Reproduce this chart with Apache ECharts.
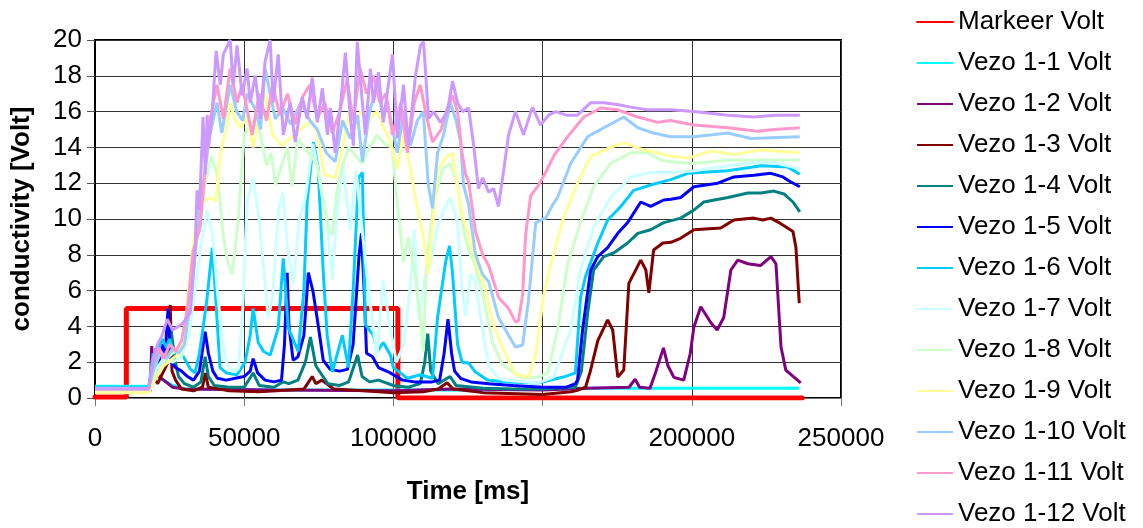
<!DOCTYPE html>
<html>
<head>
<meta charset="utf-8">
<title>conductivity</title>
<script src="https://cdn.jsdelivr.net/npm/echarts@6/dist/echarts.min.js"></script>
<style>
  html, body { margin: 0; padding: 0; background: #fff; }
  #chart { width: 1143px; height: 528px; }
</style>
</head>
<body>
<div id="chart"></div>
<script>
// time [ms], value [Volt] pairs
const markeer = [[0, 0.05], [10500, 0.05], [10500, 5], [101500, 5], [101500, 0], [237000, 0]]

const vezo1 = [[0, 0.65], [18000, 0.65], [19500, 0.9], [21000, 1.2], [23000, 1.0], [26000, 0.7], [30000, 0.5],
  [60000, 0.45], [100000, 0.45], [125000, 0.45], [150000, 0.5], [165000, 0.55], [236000, 0.55]]

const vezo2 = [[0, 0.4], [18500, 0.4], [19000, 2.9], [19500, 1.5], [20500, 2.5], [21500, 1.2], [23000, 1.0],
  [26000, 0.6], [30000, 0.5], [60000, 0.45], [100000, 0.4], [120000, 0.5], [150000, 0.45], [165000, 0.55],
  [179000, 0.6], [181000, 1.05], [182500, 0.6], [186000, 0.55], [188000, 1.5], [190500, 2.8], [192000, 1.8],
  [194000, 1.15], [197300, 1.0], [199500, 2.5], [200700, 3.97], [203000, 5.1], [206400, 4.2], [208500, 3.8],
  [210700, 4.5], [213100, 7.15], [215400, 7.7], [218800, 7.5], [223000, 7.4], [226500, 7.9], [228200, 7.5],
  [229900, 2.85], [231500, 1.56], [236500, 0.84]]

const vezo3 = [[0, 0.35], [18000, 0.35], [19500, 1.2], [21000, 0.8], [23000, 1.5], [24500, 2.0], [25200, 5.2],
  [25800, 1.5], [27000, 1.0], [29000, 0.5], [33000, 0.4], [36000, 0.6], [37000, 1.4], [38000, 0.6], [45000, 0.4],
  [55000, 0.35], [65000, 0.45], [70000, 0.5], [72800, 1.2], [74000, 0.8], [76000, 1.0], [80000, 0.5], [90000, 0.4],
  [100000, 0.3], [110000, 0.35], [115000, 0.5], [118000, 0.85], [120000, 0.5], [130000, 0.3], [150000, 0.2],
  [159500, 0.35], [162000, 0.45], [164400, 0.6], [166000, 1.5], [168500, 3.2], [171800, 4.36], [173500, 3.8],
  [175200, 1.17], [177200, 1.56], [178900, 6.4], [182900, 7.7], [184600, 7.15], [185600, 5.87], [187200, 8.27],
  [190300, 8.66], [193000, 8.7], [196000, 8.9], [200700, 9.4], [209700, 9.5], [214100, 9.94], [220800, 10.05],
  [223800, 9.94], [226500, 10.05], [229200, 9.8], [233900, 9.3], [234900, 8.4], [236000, 5.3]]

const vezo4 = [[0, 0.45], [18000, 0.45], [20000, 1.0], [22000, 1.8], [24000, 2.5], [25500, 3.8], [26800, 2.1],
  [28000, 1.2], [30000, 0.8], [33000, 0.6], [35500, 0.9], [36900, 2.3], [38000, 1.2], [40000, 0.7], [45000, 0.6],
  [50000, 0.6], [53000, 1.4], [55000, 0.7], [60000, 0.6], [63000, 0.9], [65000, 0.8], [68000, 1.0], [70500, 2.0],
  [72200, 3.4], [74000, 1.8], [76000, 1.3], [78000, 0.8], [82000, 0.7], [85000, 0.9], [88000, 2.4], [89500, 1.2],
  [92000, 0.9], [95000, 1.0], [100000, 0.7], [105000, 0.6], [109000, 0.8], [110500, 2.0], [111500, 3.6],
  [112500, 1.5], [115000, 0.8], [118000, 1.1], [119000, 1.2], [121000, 0.7], [130000, 0.55], [140000, 0.5],
  [150000, 0.5], [161000, 0.6], [163000, 1.5], [165100, 4.75], [167100, 7.15], [170500, 7.9], [173800, 8.1],
  [178500, 8.66], [181900, 9.2], [186200, 9.4], [190600, 9.8], [196300, 10.05], [200700, 10.5], [204000, 10.95],
  [212100, 11.2], [218800, 11.45], [223200, 11.45], [227500, 11.56], [230900, 11.4], [233900, 10.95], [236200, 10.4]]

const vezo5 = [[0, 0.5], [18000, 0.5], [19500, 1.5], [20500, 2.8], [21500, 2.0], [22500, 3.0], [23500, 2.5],
  [24500, 5.0], [25500, 2.0], [27000, 1.7], [29000, 1.5], [31000, 1.2], [33000, 1.0], [35000, 1.5], [36900, 3.7],
  [38000, 2.5], [39500, 1.5], [41000, 1.1], [44000, 1.0], [47000, 1.1], [50000, 1.2], [52000, 1.5], [53000, 2.2],
  [54500, 1.4], [57000, 1.0], [60000, 0.9], [62500, 1.0], [63500, 3.0], [64400, 7.0], [65000, 4.0], [66400, 2.1],
  [68000, 2.3], [70000, 3.5], [71500, 7.0], [73000, 6.0], [74500, 4.4], [76500, 2.1], [78800, 1.6], [82000, 1.5],
  [84600, 1.6], [86500, 3.0], [88500, 8.0], [89300, 9.2], [90200, 6.0], [91000, 2.5], [93000, 2.3], [95000, 1.7],
  [99000, 1.4], [103000, 1.0], [107000, 0.9], [113000, 0.9], [115500, 1.0], [117000, 2.5], [118300, 4.4],
  [119500, 2.5], [120500, 1.5], [122500, 1.1], [126000, 0.9], [132000, 0.8], [140000, 0.7], [150000, 0.6],
  [158000, 0.6], [161000, 0.8], [161700, 1.0], [163400, 3.8], [166100, 7.15], [168500, 7.9], [171800, 8.4],
  [175200, 9.2], [178500, 9.8], [182900, 10.95], [186200, 10.7], [190600, 11.06], [193000, 11.1], [196300, 11.2],
  [200700, 11.8], [208700, 12.0], [214100, 12.35], [220800, 12.45], [226500, 12.55], [230500, 12.35],
  [233200, 12.07], [236200, 11.8]]

const vezo6 = [[0, 0.6], [18000, 0.6], [19500, 2.5], [20500, 1.8], [21500, 2.8], [22500, 3.3], [24000, 2.8],
  [25000, 3.3], [26500, 2.5], [28000, 2.8], [30000, 2.2], [32000, 1.6], [33500, 1.4], [35000, 2.5], [36200, 3.9],
  [37500, 5.5], [39300, 8.4], [40300, 6.0], [41900, 1.7], [44000, 1.4], [47600, 1.3], [50300, 2.0], [52000, 3.5],
  [53000, 5.0], [54700, 3.1], [56500, 2.6], [58700, 2.4], [61400, 3.9], [63100, 7.8], [64800, 3.9], [68100, 2.6],
  [70000, 6.0], [71100, 11.0], [73200, 14.3], [74800, 12.8], [76500, 7.0], [77800, 3.5], [79500, 1.45],
  [82900, 3.5], [84900, 1.7], [86500, 6.0], [88300, 12.3], [89600, 12.6], [90600, 4.1], [93300, 3.5],
  [94600, 2.6], [96600, 3.1], [99000, 2.4], [100000, 1.7], [104700, 1.1], [109000, 1.3], [113100, 1.1],
  [114800, 4.5], [117500, 7.6], [118800, 8.5], [119800, 7.0], [121500, 3.0], [123000, 2.0], [125200, 1.95],
  [127500, 1.45], [131500, 1.0], [137600, 0.9], [148300, 0.84], [157000, 1.17], [161000, 1.4], [162700, 5.6],
  [164400, 6.8], [168500, 8.66], [171800, 9.94], [176200, 10.7], [180500, 11.6], [186200, 11.9], [192900, 12.2],
  [198700, 12.55], [212100, 12.7], [223200, 12.98], [232200, 12.9], [236200, 12.5]]

const vezo7 = [[0, 0.4], [18000, 0.4], [20000, 1.5], [23000, 2.2], [26000, 2.0], [29000, 2.3], [31500, 3.5],
  [33500, 6.0], [35500, 8.5], [37500, 10.5], [39500, 9.0], [41000, 6.0], [42500, 3.5], [44000, 2.0], [46000, 1.5],
  [48000, 1.6], [49500, 5.0], [51000, 11.0], [53000, 12.3], [55000, 10.0], [56500, 7.3], [58000, 4.5],
  [59500, 5.6], [61500, 10.5], [63000, 11.5], [64500, 8.4], [66500, 6.4], [68500, 10.0], [70500, 11.2],
  [73000, 14.2], [75000, 12.5], [77500, 10.1], [79500, 6.6], [81000, 10.0], [83000, 13.1], [85500, 9.4],
  [87500, 12.7], [89500, 9.4], [92000, 5.6], [94500, 2.3], [96500, 6.6], [99000, 3.8], [101000, 2.0],
  [103500, 3.0], [105500, 6.0], [107000, 9.4], [108500, 4.4], [110500, 6.6], [112500, 7.5], [114500, 9.4],
  [117000, 10.5], [119000, 11.2], [121500, 9.8], [123000, 6.1], [124200, 4.6], [125800, 6.9], [127500, 6.5],
  [129200, 4.5], [131900, 1.84], [135200, 1.1], [137000, 1.0], [148300, 0.84], [153700, 1.17], [159400, 3.8],
  [162700, 7.15], [167100, 9.55], [172800, 11.2], [179500, 12.35], [186200, 12.6], [192900, 12.6],
  [200700, 12.7], [217400, 13.1], [226500, 13.2], [236200, 12.8]]

const vezo8 = [[0, 0.35], [18000, 0.35], [20000, 1.2], [23000, 2.0], [26000, 2.5], [29000, 2.8], [31000, 4.0],
  [33000, 7.5], [35000, 10.0], [37000, 12.0], [39000, 13.5], [41000, 12.5], [43000, 9.0], [44500, 7.6],
  [46000, 6.9], [48000, 10.0], [50000, 14.7], [53000, 15.5], [55500, 14.7], [57500, 13.0], [59000, 13.7],
  [60500, 11.9], [62500, 13.0], [64500, 14.0], [66000, 11.8], [68000, 14.5], [70000, 14.0], [72500, 13.5],
  [74500, 13.0], [76500, 10.9], [78500, 9.4], [79500, 9.1], [81000, 11.5], [83000, 13.0], [85000, 14.0],
  [87500, 13.5], [89500, 13.1], [92000, 14.0], [94500, 14.7], [97000, 14.2], [99500, 14.0], [101300, 10.95],
  [103400, 7.6], [105000, 9.0], [107400, 6.7], [109000, 4.5], [110000, 2.6], [111000, 7.3], [113500, 10.95],
  [116500, 12.8], [119000, 13.1], [121500, 11.9], [123800, 9.1], [125800, 8.0], [127000, 7.6], [130000, 5.75],
  [133200, 3.1], [136600, 1.84], [143300, 1.1], [148700, 1.17], [151700, 1.4], [155000, 3.8], [158400, 7.5],
  [162700, 9.8], [167100, 11.8], [172800, 13.1], [179500, 13.7], [185200, 13.7], [189600, 13.3],
  [192900, 13.2], [200700, 13.1], [212100, 13.3], [223200, 13.3], [236200, 13.3]]

const vezo9 = [[0, 0.3], [18000, 0.3], [20000, 1.0], [23000, 1.8], [26000, 2.2], [28500, 2.5], [30500, 4.5],
  [32500, 8.0], [34500, 10.5], [36500, 11.0], [38500, 11.2], [40500, 11.0], [42000, 13.7], [44000, 15.0],
  [45300, 16.5], [47000, 15.5], [49000, 15.1], [51000, 15.8], [53000, 14.0], [55000, 15.5], [57000, 17.0],
  [59500, 14.7], [62500, 14.1], [65500, 14.5], [69500, 15.1], [72500, 15.5], [74500, 14.8], [76800, 12.5],
  [80500, 12.3], [83000, 14.0], [85200, 16.0], [87500, 15.0], [89000, 16.0], [92000, 15.6], [94600, 16.0],
  [97000, 15.0], [99000, 14.3], [101300, 12.8], [103400, 14.7], [105700, 12.8], [108000, 10.6], [110000, 9.1],
  [111700, 6.9], [113000, 9.5], [115000, 12.8], [117500, 13.4], [119800, 13.7], [120800, 12.5], [123150, 10.2],
  [125170, 9.1], [127500, 7.6], [130870, 6.1], [133220, 4.25], [136570, 2.8], [140940, 1.3], [145300, 1.17],
  [147650, 2.4], [150340, 5.75], [153350, 7.8], [157050, 10.1], [161700, 12.0], [166100, 13.5], [172800, 14.0],
  [177200, 14.25], [183900, 13.85], [188600, 13.7], [193000, 13.5], [198700, 13.4], [206400, 13.8],
  [214100, 13.6], [223200, 13.85], [236200, 13.7]]

const vezo10 = [[0, 0.55], [18000, 0.55], [20000, 1.8], [22000, 2.5], [24000, 2.2], [26000, 2.8], [28000, 2.5],
  [30000, 3.0], [32000, 5.5], [34200, 9.1], [36200, 11.9], [38500, 14.7], [40900, 16.5], [42500, 14.8],
  [45300, 17.5], [47500, 16.0], [49500, 15.5], [51000, 17.0], [53500, 16.2], [55500, 15.0], [57000, 18.4],
  [60400, 15.6], [63000, 16.2], [65500, 15.3], [69000, 16.5], [72000, 15.5], [74500, 15.0], [77500, 13.7],
  [80500, 13.2], [83000, 15.5], [85500, 14.5], [88000, 15.8], [89600, 13.2], [92000, 16.0], [94600, 17.5],
  [96600, 15.6], [98000, 16.5], [101300, 13.7], [103500, 16.0], [105700, 14.1], [108000, 15.5], [110000, 16.0],
  [111700, 11.9], [113100, 10.6], [114800, 13.7], [116800, 14.7], [119100, 16.5], [121000, 15.5],
  [122500, 14.3], [123500, 11.9], [125200, 10.8], [127500, 8.0], [129900, 6.9], [131900, 6.5], [135200, 4.5],
  [138600, 3.5], [140900, 2.85], [143300, 2.96], [145300, 5.5], [147700, 9.8], [151000, 10.05], [153400, 10.8],
  [155000, 11.2], [159400, 13.1], [165100, 14.6], [170500, 15.1], [177200, 15.7], [181900, 15.1],
  [187200, 14.8], [192900, 14.6], [200700, 14.6], [212100, 14.8], [219800, 14.5], [236200, 14.6]]

const vezo11 = [[0, 0.5], [18000, 0.5], [19500, 2.0], [21500, 2.8], [23000, 2.2], [25000, 3.0], [27000, 2.6],
  [29000, 3.2], [31000, 5.0], [32900, 8.2], [35200, 9.5], [36900, 12.8], [38600, 15.6], [40900, 17.5],
  [43000, 15.6], [45300, 18.4], [47600, 16.5], [49300, 17.5], [52700, 14.7], [55000, 17.0], [57500, 15.5],
  [59500, 17.5], [62000, 15.8], [64500, 17.0], [67000, 15.3], [69500, 16.8], [72000, 17.5], [74500, 15.6],
  [77000, 16.5], [79500, 14.8], [82000, 16.0], [84500, 17.8], [86500, 15.5], [88900, 18.4], [91000, 17.0],
  [93300, 18.0], [95500, 16.5], [97500, 17.0], [99700, 14.7], [102500, 16.5], [104700, 13.7], [107000, 16.5],
  [109000, 17.5], [111000, 15.8], [113100, 14.3], [116000, 15.0], [118100, 16.2], [119800, 16.9],
  [121500, 16.0], [123000, 13.7], [124200, 12.5], [125200, 12.1], [127500, 9.3], [129900, 8.0], [131900, 7.4],
  [135300, 5.6], [138600, 5.0], [140900, 4.25], [141900, 4.3], [143300, 5.75], [144300, 9.1], [146000, 11.3],
  [148300, 11.8], [150700, 12.5], [154000, 13.6], [158400, 14.6], [163800, 15.7], [169500, 16.2],
  [175200, 16.1], [181900, 15.7], [188600, 15.4], [192900, 15.5], [200700, 15.25], [212100, 15.1],
  [222100, 14.9], [227500, 15.0], [236200, 15.1]]

const vezo12 = [[0, 0.5], [18000, 0.5], [19500, 2.2], [21000, 3.0], [22500, 3.5], [24200, 4.4], [26000, 3.8],
  [28000, 4.0], [29500, 4.2], [31900, 4.75], [33500, 8.0], [34200, 11.6], [35000, 10.5], [36200, 15.7],
  [37000, 12.5], [37600, 15.8], [38000, 14.0], [39300, 16.0], [40600, 19.4], [42000, 17.5], [43000, 19.2],
  [45300, 20.0], [46300, 17.5], [47600, 19.7], [49300, 16.9], [51000, 18.4], [52000, 16.5], [53700, 18.0],
  [55400, 15.6], [57000, 18.8], [58700, 20.0], [59700, 16.5], [61400, 19.2], [63100, 14.7], [65400, 16.5],
  [67100, 14.3], [69500, 16.8], [71100, 15.6], [72800, 17.9], [74500, 15.4], [76200, 17.3], [77900, 14.7],
  [78900, 16.2], [80500, 13.7], [82200, 16.2], [83900, 19.3], [85600, 15.6], [86600, 14.1], [87900, 19.9],
  [89600, 16.5], [90600, 14.7], [92300, 18.4], [93300, 16.5], [95000, 18.2], [96600, 15.4], [99700, 19.2],
  [101300, 14.5], [103400, 17.5], [105000, 14.1], [107400, 18.0], [109100, 19.7], [110100, 19.9],
  [111800, 15.6], [113400, 16.0], [115800, 15.4], [118100, 16.0], [119800, 17.7], [121500, 16.5],
  [123200, 16.0], [125200, 16.2], [126900, 14.1], [128500, 11.7], [129900, 12.3], [131900, 11.5],
  [133600, 11.7], [135200, 10.7], [136600, 12.3], [138600, 14.7], [140900, 16.0], [143600, 14.7],
  [146600, 16.25], [149300, 15.25], [152000, 15.8], [154400, 16.0], [158000, 15.8], [161700, 15.8],
  [166100, 16.5], [170500, 16.5], [175000, 16.4], [179500, 16.25], [185000, 16.1], [192900, 16.1],
  [200700, 16.0], [212000, 15.8], [220800, 15.7], [228000, 15.8], [236200, 15.8]]

const seriesNames = ['Markeer Volt', 'Vezo 1-1 Volt', 'Vezo 1-2 Volt', 'Vezo 1-3 Volt', 'Vezo 1-4 Volt',
  'Vezo 1-5 Volt', 'Vezo 1-6 Volt', 'Vezo 1-7 Volt', 'Vezo 1-8 Volt', 'Vezo 1-9 Volt', 'Vezo 1-10 Volt',
  'Vezo 1-11 Volt', 'Vezo 1-12 Volt']
const seriesData = [markeer, vezo1, vezo2, vezo3, vezo4, vezo5, vezo6, vezo7, vezo8, vezo9, vezo10, vezo11, vezo12]
const colors = ['#FF0000', '#00FFFF', '#800080', '#800000', '#008080', '#0000FF', '#00CCFF', '#CCFFFF',
  '#CCFFCC', '#FFFF99', '#99CCFF', '#FF99CC', '#CC99FF']

const font = "'Liberation Sans', Arial, sans-serif"

const chart = echarts.init(document.getElementById('chart'), null, { renderer: 'canvas' })

const option = {
  animation: false,
  color: colors,
  textStyle: { fontFamily: font, color: '#000' },
  grid: {
    left: 95,
    right: 302,
    top: 40,
    bottom: 130,
    show: true,
    borderColor: '#000',
    borderWidth: 2
  },
  legend: {
    orient: 'vertical',
    left: 916,
    top: 9,
    padding: 0,
    height: 519,
    // tiny item height hides the legend marker dot, only the line is left
    itemWidth: 36,
    itemHeight: 2,
    itemGap: 15,
    selectedMode: false,
    textStyle: { fontFamily: font, fontSize: 26, lineHeight: 26, color: '#000' },
    data: seriesNames
  },
  xAxis: {
    type: 'value',
    min: 0,
    max: 250000,
    interval: 50000,
    name: 'Time [ms]',
    nameLocation: 'middle',
    nameGap: 81,
    nameTextStyle: { fontFamily: font, fontSize: 26, fontWeight: 'bold', color: '#000' },
    axisLine: { show: true, lineStyle: { color: '#777', width: 1 } },
    axisTick: { show: true, length: 8, lineStyle: { color: '#777' } },
    axisLabel: {
      fontFamily: font,
      fontSize: 26,
      color: '#000',
      margin: 28,
      formatter: (v) => String(v)
    },
    splitLine: { show: true, lineStyle: { color: '#333', width: 1 } }
  },
  yAxis: {
    type: 'value',
    min: 0,
    max: 20,
    interval: 2,
    name: 'conductivity [Volt]',
    nameLocation: 'middle',
    nameGap: 60,
    nameTextStyle: { fontFamily: font, fontSize: 26, fontWeight: 'bold', color: '#000' },
    axisLine: { show: true, lineStyle: { color: '#000', width: 2 } },
    axisTick: { show: true, length: 8, lineStyle: { color: '#555' } },
    axisLabel: { fontFamily: font, fontSize: 26, color: '#000', margin: 13 },
    splitLine: { show: true, lineStyle: { color: '#333', width: 1 } }
  },
  series: seriesData.map((data, i) => ({
    name: seriesNames[i],
    type: 'line',
    data: data,
    symbol: 'none',
    showSymbol: false,
    smooth: false,
    lineStyle: {
      color: colors[i],
      width: i === 0 ? 5 : 3,
      cap: i === 0 ? 'round' : 'butt'
    },
    itemStyle: { color: colors[i] }
  }))
}

chart.setOption(option)
</script>
</body>
</html>
